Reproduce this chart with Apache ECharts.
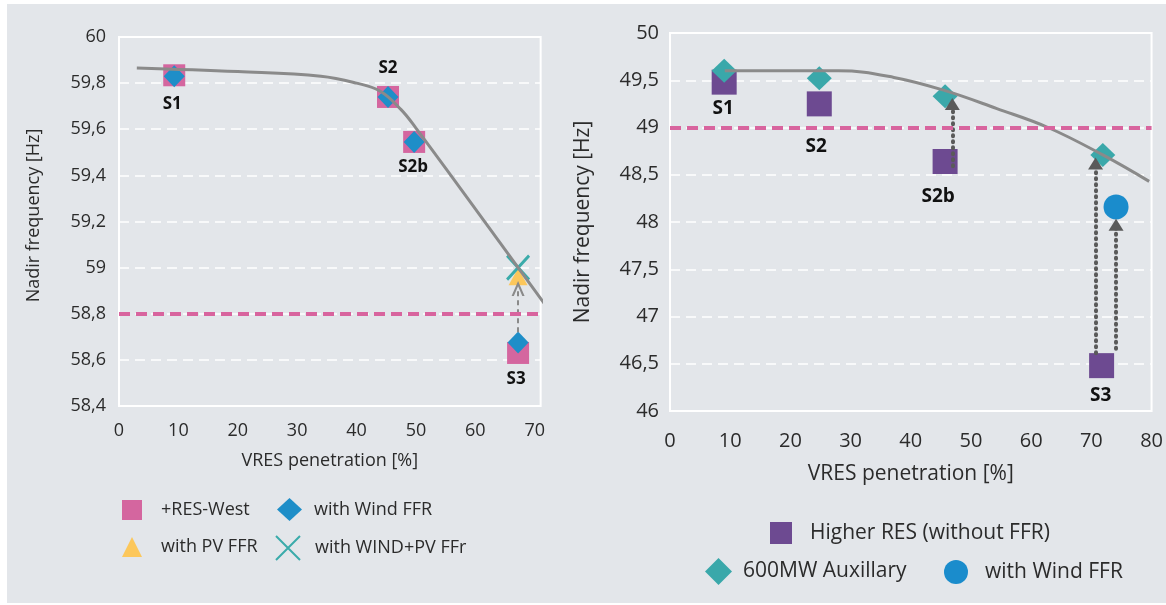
<!DOCTYPE html>
<html>
<head>
<meta charset="utf-8">
<script src="https://cdn.jsdelivr.net/npm/echarts@6/dist/echarts.min.js"></script>
<style>
  html, body { margin: 0; padding: 0; background: #fff; }
  .panel { position: absolute; background: #e3e6ea; }
  #left { left: 7px; top: 4px; width: 541px; height: 599px; }
  #right { left: 548px; top: 4px; width: 618px; height: 599px; }
</style>
</head>
<body>
<div id="left" class="panel"></div>
<div id="right" class="panel"></div>
<script>
// ---- left chart data (60 Hz system) ----
const leftScenarios = ['S1', 'S2', 'S2b', 'S3']
const leftPenetration = [9.3, 45.3, 49.7, 67.2]
const leftResWest = [59.834, 59.74, 59.545, 58.63]
const leftWindFFR = [59.83, 59.74, 59.545, 58.675]
const leftPvFFR = [[67.2, 58.96]]
const leftWindPvFFR = [[67.2, 59.0]]
const leftCurveX = [3, 20, 34, 40, 44, 47.5, 50, 60, 71.6]
const leftCurveY = [59.866, 59.85, 59.83, 59.80, 59.765, 59.685, 59.605, 59.255, 58.845]
const leftLimit = 58.8
const leftArrows = [[[67.2, 58.72], [67.2, 58.91]]]

// ---- right chart data (50 Hz system) ----
const rightScenarios = ['S1', 'S2', 'S2b', 'S3']
const rightPenetration = [9.0, 24.8, 45.7, 71.7]
const rightHigherRES = [49.48, 49.25, 48.64, 46.48]
const rightAuxX = [9.0, 24.8, 45.7, 71.9]
const rightAux600 = [49.60, 49.52, 49.33, 48.71]
const rightWindFFR = [[74.1, 48.16]]
const rightCurveX = [9.1, 28.0, 37.2, 45.7, 54.3, 62.8, 71.9, 79.6]
const rightCurveY = [49.60, 49.60, 49.53, 49.39, 49.20, 49.0, 48.71, 48.43]
const rightLimit = 49
const rightArrows = [
  [[46.9, 48.59], [46.9, 49.25]],
  [[70.7, 46.61], [70.7, 48.62]],
  [[74.1, 46.66], [74.1, 47.97]]
]

const FONT = 'Open Sans'
const TXT = '#2b2b2b'

function comma(v) {
  return String(Math.round(v * 10) / 10).replace('.', ',')
}

function zip(xs, ys) {
  return xs.map((x, i) => [x, ys[i]])
}

function legend(name, left, top, w, h, pad, size) {
  return {
    data: [name], left: left, top: top, padding: 0,
    itemWidth: w, itemHeight: h, selectedMode: false,
    textStyle: { fontFamily: FONT, fontSize: size, color: TXT, padding: [0, 0, 0, pad] }
  }
}

function scenarioLabel(offset, size) {
  return {
    show: true, position: 'inside', offset: offset,
    fontFamily: FONT, fontWeight: 'bold', fontSize: size, color: '#111',
    formatter: p => p.name
  }
}

function frameAxes(o) {
  return {
    xAxis: {
      type: 'value', min: 0, max: o.xMax, interval: 10,
      name: 'VRES penetration [%]', nameLocation: 'middle', nameGap: o.xNameGap,
      nameTextStyle: { fontFamily: FONT, fontSize: o.titleSize, color: TXT },
      axisLine: { show: false }, axisTick: { show: false }, splitLine: { show: false },
      axisLabel: {
        margin: o.xLabelMargin, fontFamily: FONT, fontSize: o.labelSize, color: TXT,
        formatter: v => (v % 10 === 0 ? String(v) : '')
      }
    },
    yAxis: {
      type: 'value', min: o.yMin, max: o.yMax, interval: o.yStep,
      name: 'Nadir frequency [Hz]', nameLocation: 'middle', nameGap: o.yNameGap,
      nameTextStyle: { fontFamily: FONT, fontSize: o.titleSize, color: TXT, padding: o.yNamePad },
      axisLine: { show: false }, axisTick: { show: false },
      splitLine: { lineStyle: { color: '#fff', width: 1.5, type: [10, 6] } },
      axisLabel: { margin: o.yLabelMargin, fontFamily: FONT, fontSize: o.labelSize, color: TXT, formatter: comma }
    }
  }
}

function trend(xs, ys, limit) {
  return {
    name: 'trend', type: 'line', smooth: 0.4, showSymbol: false, silent: true,
    lineStyle: { color: '#8a8a8a', width: 3 },
    data: zip(xs, ys),
    markLine: {
      silent: true, symbol: 'none', label: { show: false },
      lineStyle: { color: '#d8649e', width: 4, type: [11, 6] },
      data: [{ yAxis: limit }]
    }
  }
}

// ---------------- left ----------------
const leftOffsets = { S1: [-2, 29], S2: [0, -29], S2b: [-1, 25], S3: [-2, 26] }
const chevron = 'path://M0,20 L10,0 L20,20 L16.5,20 L10,7 L3.5,20 Z'

const leftChart = echarts.init(document.getElementById('left'))
leftChart.setOption(Object.assign({
  animation: false,
  grid: { left: 112, top: 33, width: 428, height: 369, show: true, borderColor: '#fff', borderWidth: 2 },
  legend: [
    legend('+RES-West', 115, 496, 20, 20, 14, 18),
    legend('with Wind FFR', 270, 494, 25, 23, 7, 18),
    legend('with PV FFR', 115, 533, 20, 20, 14, 18),
    legend('with WIND+PV FFr', 268, 531, 24, 24, 10, 18)
  ],
  series: [
    {
      name: '+RES-West', type: 'scatter', symbol: 'rect', symbolSize: 22,
      itemStyle: { color: '#d4669f', opacity: 1 },
      data: leftScenarios.map((s, i) => ({
        name: s, value: [leftPenetration[i], leftResWest[i]], label: scenarioLabel(leftOffsets[s], 17)
      }))
    },
    {
      name: 'with Wind FFR', type: 'scatter', symbol: 'diamond', symbolSize: [21, 22],
      itemStyle: { color: '#1e8ec8', opacity: 1 },
      data: zip(leftPenetration, leftWindFFR)
    },
    {
      name: 'with PV FFR', type: 'scatter', symbol: 'triangle', symbolSize: [19, 17],
      itemStyle: { color: '#fcc75b', opacity: 1 },
      data: leftPvFFR
    },
    {
      name: 'with WIND+PV FFr', type: 'scatter', symbol: 'path://M0,0 L10,10 M10,0 L0,10', symbolSize: [22, 24],
      itemStyle: { color: 'rgba(0,0,0,0)', borderColor: '#3aabaa', borderWidth: 3, opacity: 1 },
      data: leftWindPvFFR
    },
    {
      name: 'arrows', type: 'line', data: [], silent: true,
      markLine: {
        silent: true, symbol: ['none', chevron], symbolSize: [13, 15], label: { show: false },
        lineStyle: { color: '#8a8a8a', width: 2, type: [5, 4] },
        data: leftArrows.map(a => [{ coord: a[0] }, { coord: a[1] }])
      }
    },
    trend(leftCurveX, leftCurveY, leftLimit)
  ]
}, frameAxes({
  xMax: 71, yMin: 58.4, yMax: 60, yStep: 0.2,
  labelSize: 18, titleSize: 18, xLabelMargin: 16, yLabelMargin: 13,
  xNameGap: 46, yNameGap: 76, yNamePad: [0, 0, 0, 12]
})))

// ---------------- right ----------------
const rightOffsets = { S1: [-1, 26], S2: [-3, 43], S2b: [-7, 35], S3: [-1, 30] }

const rightChart = echarts.init(document.getElementById('right'))
rightChart.setOption(Object.assign({
  animation: false,
  grid: { left: 122, top: 29, width: 490, height: 378, show: true, borderColor: '#fff', borderWidth: 2 },
  legend: [
    legend('Higher RES (without FFR)', 222, 518, 22, 22, 13, 21),
    legend('600MW Auxillary', 157, 554, 27, 27, 6, 21),
    legend('with Wind FFR', 396, 556, 24, 24, 12, 21)
  ],
  series: [
    {
      name: 'Higher RES (without FFR)', type: 'scatter', symbol: 'rect', symbolSize: 25,
      itemStyle: { color: '#6d4a91', opacity: 1 },
      data: rightScenarios.map((s, i) => ({
        name: s, value: [rightPenetration[i], rightHigherRES[i]], label: scenarioLabel(rightOffsets[s], 19)
      }))
    },
    {
      name: 'arrows', type: 'line', data: [], silent: true,
      markLine: {
        silent: true, symbol: ['none', 'triangle'], symbolSize: [15, 12], label: { show: false },
        lineStyle: { color: '#5a5a5a', width: 4, type: [1, 5], cap: 'round' },
        data: rightArrows.map(a => [{ coord: a[0] }, { coord: a[1] }])
      }
    },
    {
      name: '600MW Auxillary', type: 'scatter', symbol: 'diamond', symbolSize: [25, 24],
      itemStyle: { color: '#3aa8aa', opacity: 1 },
      data: zip(rightAuxX, rightAux600)
    },
    {
      name: 'with Wind FFR', type: 'scatter', symbol: 'circle', symbolSize: 25,
      itemStyle: { color: '#1a8ccc', opacity: 1 },
      data: rightWindFFR
    },
    trend(rightCurveX, rightCurveY, rightLimit)
  ]
}, frameAxes({
  xMax: 80, yMin: 46, yMax: 50, yStep: 0.5,
  labelSize: 20, titleSize: 21, xLabelMargin: 20, yLabelMargin: 11,
  xNameGap: 53, yNameGap: 76, yNamePad: 0
})))
</script>
</body>
</html>
